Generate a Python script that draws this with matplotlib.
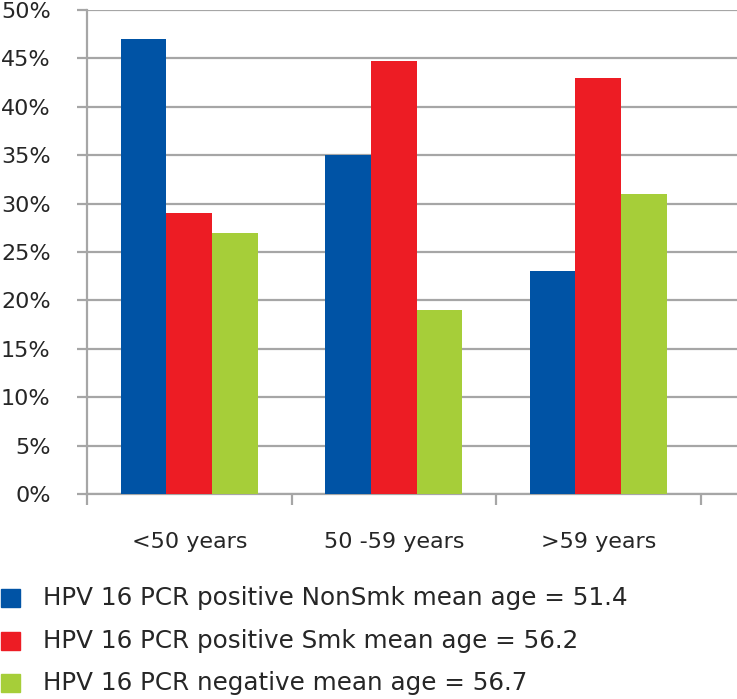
import matplotlib
matplotlib.use("Agg")
import matplotlib.pyplot as plt
from matplotlib.patches import Rectangle
import numpy as np

categories = ["<50 years", "50 -59 years", ">59 years"]
series_names = [
    "HPV 16 PCR positive NonSmk mean age = 51.4",
    "HPV 16 PCR positive Smk mean age = 56.2",
    "HPV 16 PCR negative mean age = 56.7",
]
nonsmk = [47, 35, 23]
smk = [29, 44.7, 43]
negative = [27, 19, 31]
colors = ["#0053A5", "#ED1C24", "#A6CE39"]

plt.rcParams["font.family"] = ["DejaVu Sans"]

W, H = 737, 699
fig = plt.figure(figsize=(W / 100, H / 100), dpi=100)
ax = fig.add_axes([87 / W, (H - 494) / H, (W - 87) / W, 484 / H])

x = np.arange(len(categories))
bw = 0.223
for i, (vals, c) in enumerate(zip([nonsmk, smk, negative], colors)):
    ax.bar(x + (i - 1) * bw, vals, width=bw, color=c, zorder=3, linewidth=0)

grid_c = "#A6A6A6"
ax.set_ylim(0, 50)
ax.set_xlim(-0.5, -0.5 + (W - 87) / 204.5)
ax.set_yticks(np.arange(0, 51, 5))
ax.set_yticklabels([f"{v}%" for v in range(0, 51, 5)], fontsize=16, color="#262626")
ax.yaxis.grid(True, color=grid_c, linewidth=1.6, zorder=0)
ax.set_axisbelow(True)

ax.set_xticks(x)
ax.set_xticklabels(categories, fontsize=16, color="#262626")
ax.tick_params(axis="x", which="major", length=0, pad=27)
ax.set_xticks(np.arange(-0.5, len(categories), 1.0), minor=True)
ax.tick_params(axis="x", which="minor", length=8, width=1.6, color=grid_c, direction="out")
ax.tick_params(axis="y", length=7.2, width=1.6, color=grid_c, pad=19)

for s in ["top", "right"]:
    ax.spines[s].set_visible(False)
ax.spines["left"].set_color(grid_c)
ax.spines["left"].set_linewidth(1.6)
ax.spines["bottom"].set_color(grid_c)
ax.spines["bottom"].set_linewidth(1.6)

# legend rows
row_y = [598, 641, 683]
for name, c, yy in zip(series_names, colors, row_y):
    fig.patches.append(Rectangle((1 / W, (H - yy - 9) / H), 19 / W, 18 / H,
                                 transform=fig.transFigure, color=c, figure=fig))
    fig.text(43 / W, (H - yy) / H, name, fontsize=17.7, color="#262626", va="center", ha="left")

fig.savefig("out.png", dpi=100)
